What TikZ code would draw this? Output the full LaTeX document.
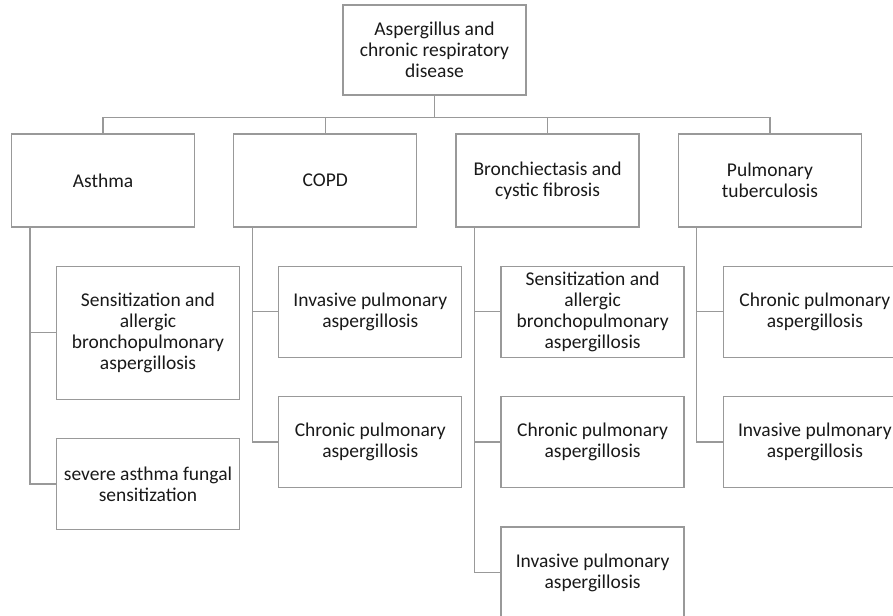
\documentclass[tikz,border=0pt]{standalone}
\usepackage{fontspec}
\setmainfont{Carlito}
\usepackage{tikz}
\usetikzlibrary{calc}
\usetikzlibrary{positioning}
\usepackage{xcolor}
\definecolor{clline}{gray}{0.6}
\definecolor{cltext}{gray}{0.1}
\tikzstyle{rootblock} = [rectangle, draw=clline, line width=1.3pt, text=cltext, align=center, minimum width=183pt, minimum height=90pt, font=\fontsize{19.5}{21}\selectfont]
\tikzstyle{bigblock} = [rectangle, draw=clline, line width=1.3pt, text=cltext, align=center, minimum width=183pt, minimum height=93pt, font=\fontsize{19.5}{21}\selectfont]
\tikzstyle{smallblock} = [rectangle, draw=clline, line width=1.3pt, text=cltext, align=center, minimum width=183pt, minimum height=91pt, font=\fontsize{19.5}{21}\selectfont]
\tikzstyle{line} = [draw=clline, line width=1.3pt]

\begin{document}
\begin{tikzpicture}[node distance = 38pt, auto]
    \clip (0,0) rectangle (893pt,-615pt);

    \node [rootblock] at (434.5pt,-50pt) (root) {Aspergillus and\\chronic respiratory\\disease};

    \node [bigblock] at (103pt,-180.5pt) (asthma) {Asthma};
    \node [bigblock, right=of asthma] (copd) {COPD};
    \node [bigblock, right=of copd] (bronch) {Bronchiectasis and\\cystic fibrosis};
    \node [bigblock, right=of bronch] (tb) {Pulmonary\\tuberculosis};

    % asthma
    \node [smallblock, minimum height=133pt, below right=38pt and 45pt of asthma.south west] (ast1) {Sensitization and\\allergic\\bronchopulmonary\\aspergillosis};
    \node [smallblock, below=of ast1] (ast2) {severe asthma fungal\\sensitization};

    % copd
    \node [smallblock, below right=38pt and 45pt of copd.south west] (copd1) {Invasive pulmonary\\aspergillosis};
    \node [smallblock, below=of copd1] (copd2) {Chronic pulmonary\\aspergillosis};

    % bronchiectasis
    \node [smallblock, below right=38pt and 45pt of bronch.south west] (br1) {Sensitization and\\allergic\\bronchopulmonary\\aspergillosis};
    \node [smallblock, below=of br1] (br2) {Chronic pulmonary\\aspergillosis};
    \node [smallblock, below=of br2] (br3) {Invasive pulmonary\\aspergillosis};

    % tuberculosis
    \node [smallblock, below right=38pt and 45pt of tb.south west] (tb1) {Chronic pulmonary\\aspergillosis};
    \node [smallblock, below=of tb1] (tb2) {Invasive pulmonary\\aspergillosis};

    \path [line] (root.south) -- ++(0,-22pt) -| (asthma.north);
    \path [line] (root.south) -- ++(0,-22pt) -| (copd.north);
    \path [line] (root.south) -- ++(0,-22pt) -| (bronch.north);
    \path [line] (root.south) -- ++(0,-22pt) -| (tb.north);

    \path [line] ([xshift=19pt]asthma.south west) |- (ast1.west);
    \path [line] ([xshift=19pt]asthma.south west) |- (ast2.west);
    \path [line] ([xshift=19pt]copd.south west) |- (copd1.west);
    \path [line] ([xshift=19pt]copd.south west) |- (copd2.west);
    \path [line] ([xshift=19pt]bronch.south west) |- (br1.west);
    \path [line] ([xshift=19pt]bronch.south west) |- (br2.west);
    \path [line] ([xshift=19pt]bronch.south west) |- (br3.west);
    \path [line] ([xshift=19pt]tb.south west) |- (tb1.west);
    \path [line] ([xshift=19pt]tb.south west) |- (tb2.west);

  \end{tikzpicture}
\end{document}
